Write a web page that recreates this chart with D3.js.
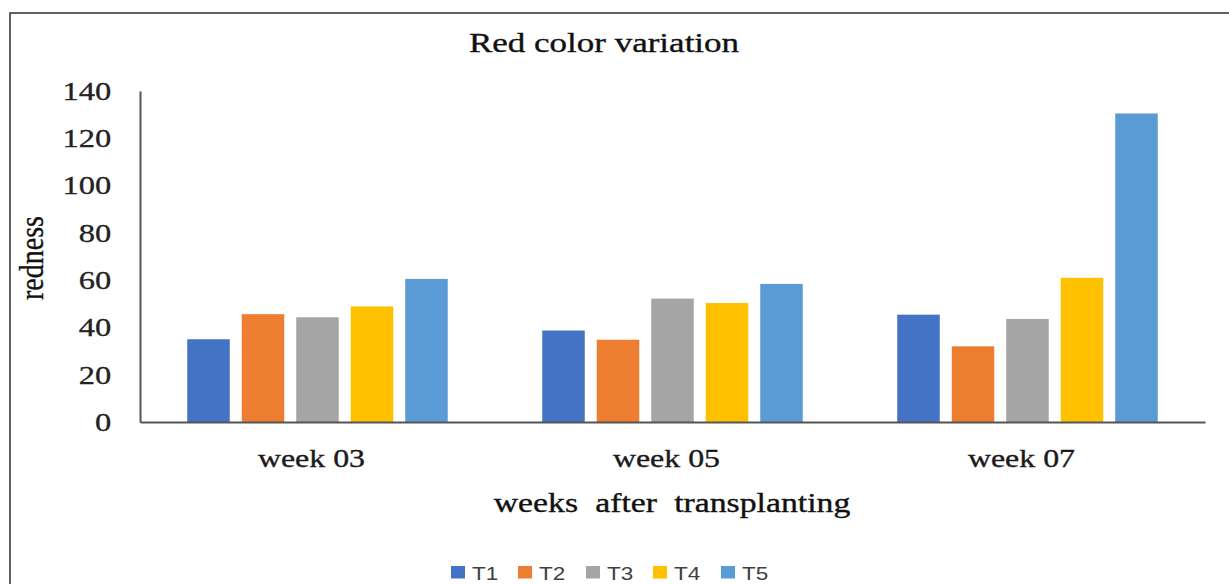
<!DOCTYPE html>
<html>
<head>
<meta charset="utf-8">
<script src="https://cdn.jsdelivr.net/npm/d3@7/dist/d3.min.js"></script>
<style>
  html, body { margin: 0; padding: 0; background: #fff; }
  svg { display: block; }
</style>
</head>
<body>
<svg id="chart" width="1229" height="584"></svg>
<script>
// Redness measured per treatment, by week after transplanting
const weeks = ["week 03", "week 05", "week 07"];
const treatments = ["T1", "T2", "T3", "T4", "T5"];
const T1 = [35, 38.7, 45.4];
const T2 = [45.6, 34.8, 32];
const T3 = [44.3, 52.2, 43.6];
const T4 = [48.9, 50.3, 61];
const T5 = [60.5, 58.4, 130.5];
const yTicks = [0, 20, 40, 60, 80, 100, 120, 140];
const colors = ["#4472C4", "#ED7D31", "#A5A5A5", "#FFC000", "#5B9BD5"];

const seriesValues = [T1, T2, T3, T4, T5];
const rows = weeks.map((w, i) => ({
  week: w,
  values: treatments.map((t, j) => ({ key: t, value: seriesValues[j][i] }))
}));

const svg = d3.select("#chart");
const serif = "'Liberation Serif', 'Times New Roman', serif";
const sans = "'Liberation Sans', Arial, sans-serif";
const SX = 1.25; // wide text face

// frame around the figure
svg.append("rect")
  .attr("x", 10).attr("y", 13)
  .attr("width", 1240).attr("height", 600)
  .attr("fill", "none").attr("stroke", "#3a3a3a").attr("stroke-width", 1.6);

const plotLeft = 140, plotRight = 1205, plotTop = 91, plotBottom = 422;

const x0 = d3.scaleBand().domain(weeks).range([plotLeft, plotRight]).paddingInner(0).paddingOuter(0);
const x1 = d3.scaleBand().domain(treatments).range([0, x0.bandwidth()])
  .paddingInner(0.22).paddingOuter(0.867);
const y = d3.scaleLinear().domain([0, 140]).range([plotBottom, plotTop]);
const color = d3.scaleOrdinal().domain(treatments).range(colors);

function label(g, text, x, yPos, opts) {
  return g.append("text")
    .attr("transform", `translate(${x},${yPos}) scale(${opts.sx || SX},1)`)
    .attr("text-anchor", opts.anchor || "middle")
    .attr("font-family", opts.family || serif)
    .attr("font-size", opts.size)
    .attr("fill", opts.fill || "#1a1a1a")
    .attr("stroke", opts.fill || "#1a1a1a")
    .attr("stroke-width", 0.35)
    .style("word-spacing", opts.wordSpacing || null)
    .text(text);
}

// title
label(svg, "Red color variation", 604, 52, { size: 28, fill: "#111" });

// bars
const groups = svg.append("g").selectAll("g")
  .data(rows).join("g")
  .attr("transform", d => `translate(${x0(d.week)},0)`);
groups.selectAll("rect")
  .data(d => d.values).join("rect")
  .attr("x", d => x1(d.key))
  .attr("width", x1.bandwidth())
  .attr("y", d => y(d.value))
  .attr("height", d => y(0) - y(d.value))
  .attr("fill", d => color(d.key));

// y axis
const yAxis = svg.append("g")
  .attr("transform", `translate(${plotLeft},0)`)
  .call(d3.axisLeft(y).tickValues(yTicks).tickSize(0).tickPadding(23));
yAxis.select(".domain").attr("stroke", "#555").attr("stroke-width", 2);
yAxis.selectAll("text")
  .attr("transform", `scale(${SX},1)`)
  .attr("font-family", serif).attr("font-size", 26).attr("fill", "#222")
  .attr("stroke", "#222").attr("stroke-width", 0.3);

// x axis
const xAxis = svg.append("g")
  .attr("transform", `translate(0,${plotBottom})`)
  .call(d3.axisBottom(x0).tickSize(0).tickFormat(() => ""));
xAxis.select(".domain").attr("stroke", "#555").attr("stroke-width", 2);

// category labels
weeks.forEach(w => {
  label(svg, w, x0(w) + x0.bandwidth() / 2 - 6, 467, { size: 25.5, fill: "#1a1a1a" });
});

// axis titles
label(svg, "weeks after transplanting", 672, 512, { size: 27, fill: "#111", wordSpacing: "7px" });
svg.append("text")
  .attr("transform", "translate(43,258) rotate(-90) scale(1,1.2)")
  .attr("text-anchor", "middle")
  .attr("font-family", serif).attr("font-size", 28).attr("fill", "#111")
  .attr("stroke", "#111").attr("stroke-width", 0.3)
  .text("redness");

// legend
const legendPos = [451, 518, 586, 653, 721];
const legend = svg.append("g").selectAll("g")
  .data(treatments).join("g")
  .attr("transform", (d, i) => `translate(${legendPos[i]},566)`);
legend.append("rect")
  .attr("width", 14).attr("height", 12.5)
  .attr("fill", d => color(d));
legend.append("text")
  .attr("transform", `translate(21,14) scale(${SX},1)`)
  .attr("font-family", sans).attr("font-size", 18).attr("fill", "#404040")
  .text(d => d);
</script>
</body>
</html>
